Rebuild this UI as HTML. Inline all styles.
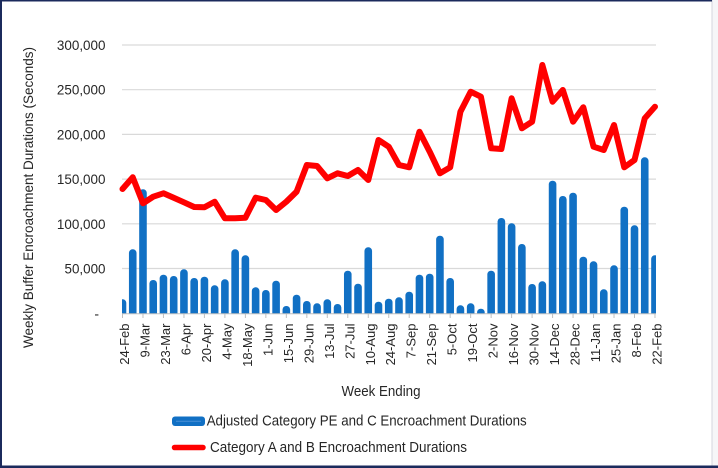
<!DOCTYPE html>
<html><head><meta charset="utf-8"><style>
html,body{margin:0;padding:0;background:#fff;}
svg{display:block;}
text{font-family:"Liberation Sans",Arial,sans-serif;fill:#262626;}
</style></head><body>
<svg width="718" height="468" viewBox="0 0 718 468" xmlns="http://www.w3.org/2000/svg">
<defs><clipPath id="pc"><rect x="122" y="0" width="534" height="313.5"/></clipPath></defs>
<rect x="0" y="0" width="718" height="468" fill="#fff"/>
<rect x="712" y="0" width="6" height="468" fill="#f6f6f8"/>
<line x1="712" y1="0" x2="712" y2="468" stroke="#d4d6de" stroke-width="1"/>
<rect x="0" y="0" width="2" height="468" fill="#1b2a5c"/>
<rect x="0" y="0" width="712" height="1.5" fill="#1b2a5c"/>
<rect x="0" y="465.5" width="718" height="2.5" fill="#1b2a5c"/>

<g stroke="#d9d9d9" stroke-width="1.2">
<line x1="122" y1="45" x2="656" y2="45"/>
<line x1="122" y1="89.7" x2="656" y2="89.7"/>
<line x1="122" y1="134.4" x2="656" y2="134.4"/>
<line x1="122" y1="179.1" x2="656" y2="179.1"/>
<line x1="122" y1="223.8" x2="656" y2="223.8"/>
<line x1="122" y1="268.5" x2="656" y2="268.5"/>
</g>

<g font-size="14" text-anchor="end">
<text x="105.5" y="50" textLength="48.6" lengthAdjust="spacingAndGlyphs">300,000</text>
<text x="105.5" y="94.7" textLength="48.6" lengthAdjust="spacingAndGlyphs">250,000</text>
<text x="105.5" y="139.4" textLength="48.6" lengthAdjust="spacingAndGlyphs">200,000</text>
<text x="105.5" y="184.1" textLength="48.6" lengthAdjust="spacingAndGlyphs">150,000</text>
<text x="105.5" y="228.8" textLength="48.6" lengthAdjust="spacingAndGlyphs">100,000</text>
<text x="105.5" y="273.5" textLength="41" lengthAdjust="spacingAndGlyphs">50,000</text>
<text x="99" y="318.5">-</text>
</g>

<text transform="translate(33,197.5) rotate(-90)" font-size="14" text-anchor="middle" textLength="301" lengthAdjust="spacingAndGlyphs">Weekly Buffer Encroachment Durations (Seconds)</text>

<g clip-path="url(#pc)" fill="#1170c4">
<rect x="118.7" y="299.3" width="7.6" height="20.7" rx="3.6"/>
<rect x="128.94" y="249.3" width="7.6" height="70.7" rx="3.6"/>
<rect x="139.18" y="189.3" width="7.6" height="130.7" rx="3.6"/>
<rect x="149.42" y="280" width="7.6" height="40" rx="3.6"/>
<rect x="159.66" y="274.7" width="7.6" height="45.3" rx="3.6"/>
<rect x="169.9" y="276" width="7.6" height="44" rx="3.6"/>
<rect x="180.14" y="269.3" width="7.6" height="50.7" rx="3.6"/>
<rect x="190.38" y="278" width="7.6" height="42" rx="3.6"/>
<rect x="200.62" y="276.7" width="7.6" height="43.3" rx="3.6"/>
<rect x="210.86" y="285.3" width="7.6" height="34.7" rx="3.6"/>
<rect x="221.1" y="279.3" width="7.6" height="40.7" rx="3.6"/>
<rect x="231.34" y="249.3" width="7.6" height="70.7" rx="3.6"/>
<rect x="241.58" y="255.3" width="7.6" height="64.7" rx="3.6"/>
<rect x="251.82" y="287.3" width="7.6" height="32.7" rx="3.6"/>
<rect x="262.06" y="290" width="7.6" height="30" rx="3.6"/>
<rect x="272.3" y="280.7" width="7.6" height="39.3" rx="3.6"/>
<rect x="282.54" y="306" width="7.6" height="14" rx="3.6"/>
<rect x="292.78" y="294.7" width="7.6" height="25.3" rx="3.6"/>
<rect x="303.02" y="301" width="7.6" height="19" rx="3.6"/>
<rect x="313.26" y="303.3" width="7.6" height="16.7" rx="3.6"/>
<rect x="323.5" y="299.3" width="7.6" height="20.7" rx="3.6"/>
<rect x="333.74" y="304" width="7.6" height="16" rx="3.6"/>
<rect x="343.98" y="270.7" width="7.6" height="49.3" rx="3.6"/>
<rect x="354.22" y="283.7" width="7.6" height="36.3" rx="3.6"/>
<rect x="364.46" y="247.3" width="7.6" height="72.7" rx="3.6"/>
<rect x="374.7" y="301.7" width="7.6" height="18.3" rx="3.6"/>
<rect x="384.94" y="298.7" width="7.6" height="21.3" rx="3.6"/>
<rect x="395.18" y="297.3" width="7.6" height="22.7" rx="3.6"/>
<rect x="405.42" y="291.7" width="7.6" height="28.3" rx="3.6"/>
<rect x="415.66" y="274.7" width="7.6" height="45.3" rx="3.6"/>
<rect x="425.9" y="273.7" width="7.6" height="46.3" rx="3.6"/>
<rect x="436.14" y="235.7" width="7.6" height="84.3" rx="3.6"/>
<rect x="446.38" y="278" width="7.6" height="42" rx="3.6"/>
<rect x="456.62" y="305.3" width="7.6" height="14.7" rx="3.6"/>
<rect x="466.86" y="303.3" width="7.6" height="16.7" rx="3.6"/>
<rect x="477.1" y="308.7" width="7.6" height="11.3" rx="3.6"/>
<rect x="487.34" y="270.7" width="7.6" height="49.3" rx="3.6"/>
<rect x="497.58" y="218" width="7.6" height="102" rx="3.6"/>
<rect x="507.82" y="223.3" width="7.6" height="96.7" rx="3.6"/>
<rect x="518.06" y="244" width="7.6" height="76" rx="3.6"/>
<rect x="528.3" y="284" width="7.6" height="36" rx="3.6"/>
<rect x="538.54" y="281.3" width="7.6" height="38.7" rx="3.6"/>
<rect x="548.78" y="180.7" width="7.6" height="139.3" rx="3.6"/>
<rect x="559.02" y="196" width="7.6" height="124" rx="3.6"/>
<rect x="569.26" y="192.7" width="7.6" height="127.3" rx="3.6"/>
<rect x="579.5" y="256.7" width="7.6" height="63.3" rx="3.6"/>
<rect x="589.74" y="261.3" width="7.6" height="58.7" rx="3.6"/>
<rect x="599.98" y="289.3" width="7.6" height="30.7" rx="3.6"/>
<rect x="610.22" y="265.3" width="7.6" height="54.7" rx="3.6"/>
<rect x="620.46" y="206.7" width="7.6" height="113.3" rx="3.6"/>
<rect x="630.7" y="225.3" width="7.6" height="94.7" rx="3.6"/>
<rect x="640.94" y="157.3" width="7.6" height="162.7" rx="3.6"/>
<rect x="651.18" y="255.3" width="7.6" height="64.7" rx="3.6"/>
</g>

<line x1="122" y1="313.7" x2="656" y2="313.7" stroke="#bfbfbf" stroke-width="1"/>
<g stroke="#bfbfbf" stroke-width="1">
<line x1="122.5" y1="313.5" x2="122.5" y2="318"/><line x1="142.98" y1="313.5" x2="142.98" y2="318"/><line x1="163.46" y1="313.5" x2="163.46" y2="318"/><line x1="183.94" y1="313.5" x2="183.94" y2="318"/><line x1="204.42" y1="313.5" x2="204.42" y2="318"/><line x1="224.9" y1="313.5" x2="224.9" y2="318"/><line x1="245.38" y1="313.5" x2="245.38" y2="318"/><line x1="265.86" y1="313.5" x2="265.86" y2="318"/><line x1="286.34" y1="313.5" x2="286.34" y2="318"/><line x1="306.82" y1="313.5" x2="306.82" y2="318"/><line x1="327.3" y1="313.5" x2="327.3" y2="318"/><line x1="347.78" y1="313.5" x2="347.78" y2="318"/><line x1="368.26" y1="313.5" x2="368.26" y2="318"/><line x1="388.74" y1="313.5" x2="388.74" y2="318"/><line x1="409.22" y1="313.5" x2="409.22" y2="318"/><line x1="429.7" y1="313.5" x2="429.7" y2="318"/><line x1="450.18" y1="313.5" x2="450.18" y2="318"/><line x1="470.66" y1="313.5" x2="470.66" y2="318"/><line x1="491.14" y1="313.5" x2="491.14" y2="318"/><line x1="511.62" y1="313.5" x2="511.62" y2="318"/><line x1="532.1" y1="313.5" x2="532.1" y2="318"/><line x1="552.58" y1="313.5" x2="552.58" y2="318"/><line x1="573.06" y1="313.5" x2="573.06" y2="318"/><line x1="593.54" y1="313.5" x2="593.54" y2="318"/><line x1="614.02" y1="313.5" x2="614.02" y2="318"/><line x1="634.5" y1="313.5" x2="634.5" y2="318"/><line x1="654.98" y1="313.5" x2="654.98" y2="318"/>
</g>

<polyline fill="none" stroke="#ff0000" stroke-width="6" stroke-linejoin="round" stroke-linecap="round" points="122.5,189 132.74,177.3 142.98,203.3 153.22,196.7 163.46,193.3 173.7,197.7 183.94,202.3 194.18,207 204.42,207.3 214.66,201.7 224.9,218.3 235.14,218.3 245.38,217.7 255.62,197.7 265.86,200 276.1,210 286.34,201.7 296.58,191.7 306.82,165 317.06,166 327.3,178.3 337.54,173.3 347.78,176 358.02,170 368.26,180 378.5,140 388.74,146.7 398.98,165 409.22,167.3 419.46,131.7 429.7,151.7 439.94,173.3 450.18,167.3 460.42,111.7 470.66,91.7 480.9,96.7 491.14,148.3 501.38,149 511.62,98.3 521.86,128.3 532.1,121.7 542.34,65 552.58,101.7 562.82,90 573.06,121.7 583.3,107.3 593.54,146.7 603.78,150 614.02,125 624.26,167.3 634.5,160 644.74,118.3 654.98,106.7"/>

<g font-size="13" text-anchor="end">
<text transform="translate(129,323.5) rotate(-90)">24-Feb</text>
<text transform="translate(149.5,323.5) rotate(-90)">9-Mar</text>
<text transform="translate(170,323.5) rotate(-90)">23-Mar</text>
<text transform="translate(190.4,323.5) rotate(-90)">6-Apr</text>
<text transform="translate(210.9,323.5) rotate(-90)">20-Apr</text>
<text transform="translate(231.4,323.5) rotate(-90)">4-May</text>
<text transform="translate(251.9,323.5) rotate(-90)">18-May</text>
<text transform="translate(272.4,323.5) rotate(-90)">1-Jun</text>
<text transform="translate(292.8,323.5) rotate(-90)">15-Jun</text>
<text transform="translate(313.3,323.5) rotate(-90)">29-Jun</text>
<text transform="translate(333.8,323.5) rotate(-90)">13-Jul</text>
<text transform="translate(354.3,323.5) rotate(-90)">27-Jul</text>
<text transform="translate(374.8,323.5) rotate(-90)">10-Aug</text>
<text transform="translate(395.2,323.5) rotate(-90)">24-Aug</text>
<text transform="translate(415.7,323.5) rotate(-90)">7-Sep</text>
<text transform="translate(436.2,323.5) rotate(-90)">21-Sep</text>
<text transform="translate(456.7,323.5) rotate(-90)">5-Oct</text>
<text transform="translate(477.2,323.5) rotate(-90)">19-Oct</text>
<text transform="translate(497.6,323.5) rotate(-90)">2-Nov</text>
<text transform="translate(518.1,323.5) rotate(-90)">16-Nov</text>
<text transform="translate(538.6,323.5) rotate(-90)">30-Nov</text>
<text transform="translate(559.1,323.5) rotate(-90)">14-Dec</text>
<text transform="translate(579.6,323.5) rotate(-90)">28-Dec</text>
<text transform="translate(600,323.5) rotate(-90)">11-Jan</text>
<text transform="translate(620.5,323.5) rotate(-90)">25-Jan</text>
<text transform="translate(641,323.5) rotate(-90)">8-Feb</text>
<text transform="translate(661.5,323.5) rotate(-90)">22-Feb</text>
</g>

<text x="381" y="396" font-size="14.5" text-anchor="middle" textLength="79" lengthAdjust="spacingAndGlyphs">Week Ending</text>

<rect x="172" y="416.5" width="33" height="9.5" rx="3" fill="#1170c4"/>
<line x1="176" y1="421.2" x2="201" y2="421.2" stroke="#4a90d6" stroke-width="1"/>
<text x="206.7" y="425.5" font-size="14.5" textLength="320" lengthAdjust="spacingAndGlyphs">Adjusted Category PE and C Encroachment Durations</text>

<line x1="174.5" y1="447.5" x2="203" y2="447.5" stroke="#ff0000" stroke-width="5.5" stroke-linecap="round"/>
<text x="210" y="452" font-size="14.5" textLength="257" lengthAdjust="spacingAndGlyphs">Category A and B Encroachment Durations</text>
</svg>
</body></html>
